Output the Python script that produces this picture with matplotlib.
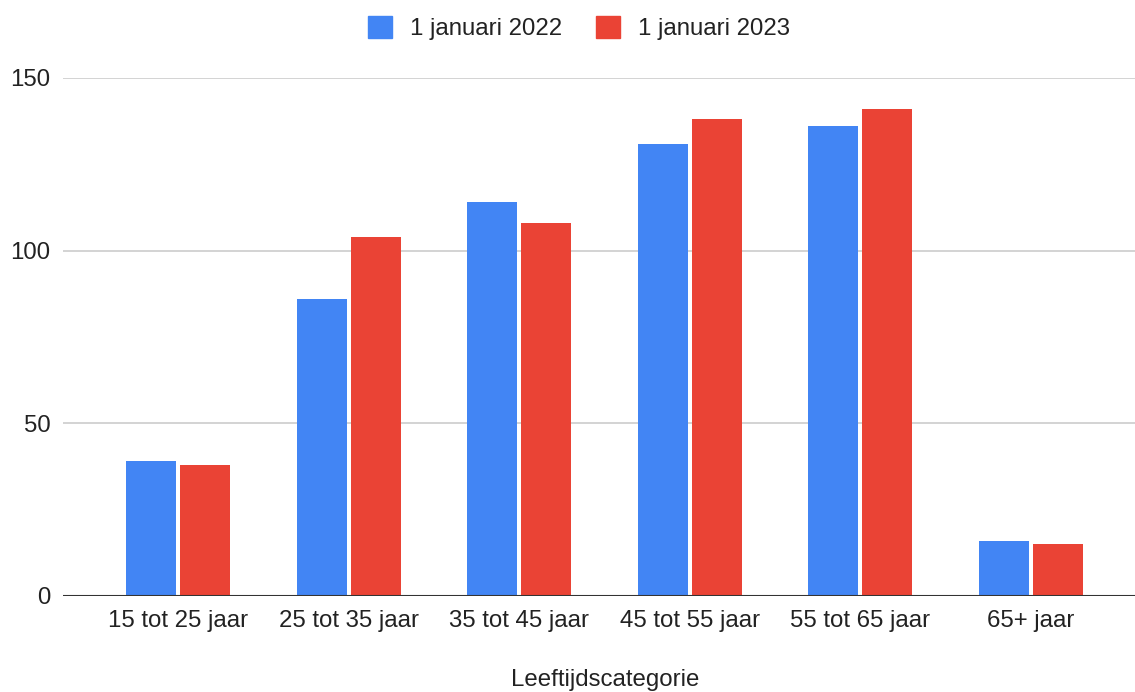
import matplotlib
matplotlib.use("Agg")
import matplotlib.pyplot as plt
import numpy as np
from matplotlib.patches import Patch

categories = ["15 tot 25 jaar", "25 tot 35 jaar", "35 tot 45 jaar",
              "45 tot 55 jaar", "55 tot 65 jaar", "65+ jaar"]
values_2022 = [39, 86, 114, 131, 136, 16]
values_2023 = [38, 104, 108, 138, 141, 15]
series_labels = ["1 januari 2022", "1 januari 2023"]
yticks = [0, 50, 100, 150]
xlabel = "Leeftijdscategorie"

blue = "#4285F4"
red = "#EA4335"
fs = 17.3

plt.rcParams['font.family'] = ['Liberation Sans', 'DejaVu Sans']

fig = plt.figure(figsize=(11.35, 6.92), dpi=100)
ax = fig.add_axes([63/1135, 1 - 596/692, 1 - 63/1135, (596 - 78)/692])

x = np.arange(len(categories))
w = 0.293
off = 0.158
ax.bar(x - off, values_2022, width=w, color=blue, zorder=3)
ax.bar(x + off, values_2023, width=w, color=red, zorder=3)

ax.set_ylim(0, 150)
ax.set_xlim(-0.674, 5.61)
ax.set_yticks(yticks)
ax.set_yticklabels([str(v) for v in yticks], fontsize=fs, color="#222222")
ax.set_xticks(x)
ax.set_xticklabels(categories, fontsize=fs, color="#222222")
ax.tick_params(axis='both', length=0)
ax.tick_params(axis='y', pad=9)
ax.tick_params(axis='x', pad=10)
ax.grid(axis='y', color="#cccccc", linewidth=1.2, zorder=0)
ax.axhline(0, color="#333333", linewidth=1.5, zorder=4)
for s in ax.spines.values():
    s.set_visible(False)

fig.text(605/1135, 1 - 680/692, xlabel, fontsize=fs, color="#222222",
         ha='center', va='center')

handles = [Patch(facecolor=blue, edgecolor=blue), Patch(facecolor=red, edgecolor=red)]
fig.legend(handles, series_labels, loc='center', bbox_to_anchor=(579/1135, 1 - 28/692),
           ncol=2, frameon=False, fontsize=fs, handlelength=1.0, handleheight=1.0,
           handletextpad=0.75, columnspacing=1.43, labelcolor="#222222")

fig.savefig("out.png", dpi=100, facecolor="white")
